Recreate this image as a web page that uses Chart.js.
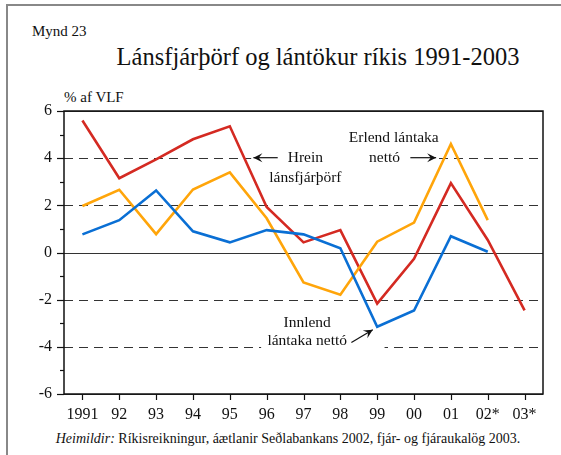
<!DOCTYPE html>
<html>
<head>
<meta charset="utf-8">
<script src="https://cdn.jsdelivr.net/npm/chart.js@4"></script>
<style>
  body { margin: 0; background: #fff; }
  #wrap { position: relative; width: 561px; height: 455px; font-family: "Liberation Serif", "Times New Roman", serif; color: #111; }
  #frame { position: absolute; left: 6px; top: 4px; width: 560px; height: 460px; border-left: 2px solid #888; border-top: 2px solid #888; }
  .txt { position: absolute; white-space: nowrap; }
  #mynd { left: 32px; top: 23px; font-size: 15px; }
  #title { left: 0; width: 636px; text-align: center; top: 43px; font-size: 24.5px; }
  #unit { left: 64px; top: 89px; font-size: 15px; }
  #source { left: 0; width: 576px; text-align: center; top: 431px; font-size: 14px; }
  canvas { position: absolute; left: 0; top: 0; }
</style>
</head>
<body>
<div id="wrap">
  <div id="frame"></div>
  <div class="txt" id="mynd">Mynd 23</div>
  <div class="txt" id="title">Lánsfjárþörf og lántökur ríkis 1991-2003</div>
  <div class="txt" id="unit">% af VLF</div>
  <div class="txt" id="source"><i>Heimildir:</i> Ríkisreikningur, áætlanir Seðlabankans 2002, fjár- og fjáraukalög 2003.</div>
  <canvas id="chart" width="561" height="455"></canvas>
</div>
<script>
const years = ["1991", "92", "93", "94", "95", "96", "97", "98", "99", "00", "01", "02*", "03*"];
const hreinLansfjarthorf = [5.6, 3.15, 3.95, 4.8, 5.35, 1.93, 0.43, 0.95, -2.17, -0.27, 2.94, 0.53, -2.45];
const erlendLantaka = [1.97, 2.66, 0.78, 2.67, 3.4, 1.45, -1.27, -1.79, 0.46, 1.27, 4.6, 1.37, null];
const innlendLantaka = [0.77, 1.37, 2.63, 0.9, 0.43, 0.95, 0.77, 0.18, -3.15, -2.46, 0.69, 0.03, null];
const yMajorTicks = [-6, -4, -2, 0, 2, 4, 6];

const FONT = '"Liberation Serif", "Times New Roman", serif';

// grid, border, tick marks and the three annotations
const decorPlugin = {
  id: "decor",
  beforeDatasetsDraw(chart) {
    const ctx = chart.ctx;
    const a = chart.chartArea;
    const x = chart.scales.x;
    const y = chart.scales.y;
    const px = (i) => x.getPixelForValue(i);
    const py = (v) => y.getPixelForValue(v);
    ctx.save();

    // dashed grid lines
    ctx.strokeStyle = "#333";
    ctx.lineWidth = 1.2;
    yMajorTicks.forEach((v) => {
      const yy = Math.round(py(v)) + 0.5;
      ctx.setLineDash(v === 0 || Math.abs(v) === 6 ? [] : [9, 6]);
      ctx.beginPath();
      ctx.moveTo(a.left, yy);
      ctx.lineTo(a.right, yy);
      ctx.stroke();
    });
    ctx.setLineDash([]);

    // white boxes behind the annotations
    ctx.fillStyle = "#fff";
    ctx.fillRect(px(4.58), py(4.3), px(9.62) - px(4.58), py(3.75) - py(4.3));
    ctx.fillRect(px(4.85), py(-3.6), px(8.2) - px(4.85), py(-4.4) - py(-3.6));

    // axis box
    ctx.strokeStyle = "#111";
    ctx.lineWidth = 1.5;
    ctx.strokeRect(a.left, a.top, a.right - a.left, a.bottom - a.top);

    // y tick marks
    ctx.lineWidth = 1.2;
    for (let v = -6; v <= 6; v++) {
      const yy = Math.round(py(v)) + 0.5;
      const len = v % 2 === 0 ? 7 : 4;
      ctx.beginPath();
      ctx.moveTo(a.left - len, yy);
      ctx.lineTo(a.left, yy);
      ctx.stroke();
    }
    // x tick marks
    years.forEach((_, i) => {
      const xx = Math.round(px(i)) + 0.5;
      ctx.beginPath();
      ctx.moveTo(xx, a.bottom);
      ctx.lineTo(xx, a.bottom + 6);
      ctx.stroke();
    });

    // annotations
    ctx.fillStyle = "#111";
    ctx.font = "15.5px " + FONT;
    ctx.textAlign = "center";
    ctx.textBaseline = "middle";
    ctx.fillText("Hrein", px(6.05), py(4.02));
    ctx.fillText("lánsfjárþörf", px(6.05), py(3.18));
    ctx.fillText("Erlend lántaka", px(8.45), py(4.86));
    ctx.fillText("nettó", px(8.2), py(4.02));
    ctx.fillText("Innlend", px(6.1), py(-2.97));
    ctx.fillText("lántaka nettó", px(6.1), py(-3.73));

    const arrow = (x1, y1, x2, y2) => {
      ctx.strokeStyle = "#111";
      ctx.lineWidth = 1.2;
      ctx.beginPath();
      ctx.moveTo(x1, y1);
      ctx.lineTo(x2, y2);
      ctx.stroke();
      const ang = Math.atan2(y2 - y1, x2 - x1);
      const L = 9, W = 4.5;
      ctx.beginPath();
      ctx.moveTo(x2, y2);
      ctx.lineTo(x2 - L * Math.cos(ang) + W * Math.sin(ang), y2 - L * Math.sin(ang) - W * Math.cos(ang));
      ctx.lineTo(x2 - 0.6 * L * Math.cos(ang), y2 - 0.6 * L * Math.sin(ang));
      ctx.lineTo(x2 - L * Math.cos(ang) - W * Math.sin(ang), y2 - L * Math.sin(ang) + W * Math.cos(ang));
      ctx.closePath();
      ctx.fill();
    };
    arrow(px(5.3), py(4.02), px(4.64), py(4.02));
    arrow(px(8.9), py(4.02), px(9.6), py(4.02));
    arrow(px(7.3), py(-3.82), px(7.88), py(-3.28));

    ctx.restore();
  },
};

const series = [
  { data: innlendLantaka, color: "#0a6fd4" },
  { data: erlendLantaka, color: "#ffa50a" },
  { data: hreinLansfjarthorf, color: "#d42a22" },
];

new Chart(document.getElementById("chart"), {
  type: "line",
  data: {
    labels: years,
    datasets: series.map((s) => ({
      data: s.data,
      borderColor: s.color,
      borderWidth: 2.6,
      pointRadius: 0,
      tension: 0,
      fill: false,
    })),
  },
  options: {
    responsive: false,
    animation: false,
    events: [],
    layout: { padding: { left: 0, right: 18, top: 111, bottom: 0 } },
    scales: {
      x: {
        offset: true,
        grid: { display: false, drawTicks: false },
        border: { display: false },
        ticks: { color: "#111", font: { family: FONT, size: 16 }, padding: 11, maxRotation: 0, autoSkip: false },
        afterFit(scale) { scale.height = 61; },
      },
      y: {
        min: -6,
        max: 6,
        grid: { display: false, drawTicks: false },
        border: { display: false },
        ticks: {
          stepSize: 2,
          color: "#111",
          font: { family: FONT, size: 16 },
          padding: 12,
        },
        afterFit(scale) { scale.width = 64; },
      },
    },
    plugins: {
      legend: { display: false },
      tooltip: { enabled: false },
      title: { display: false },
    },
  },
  plugins: [decorPlugin],
});
</script>
</body>
</html>
